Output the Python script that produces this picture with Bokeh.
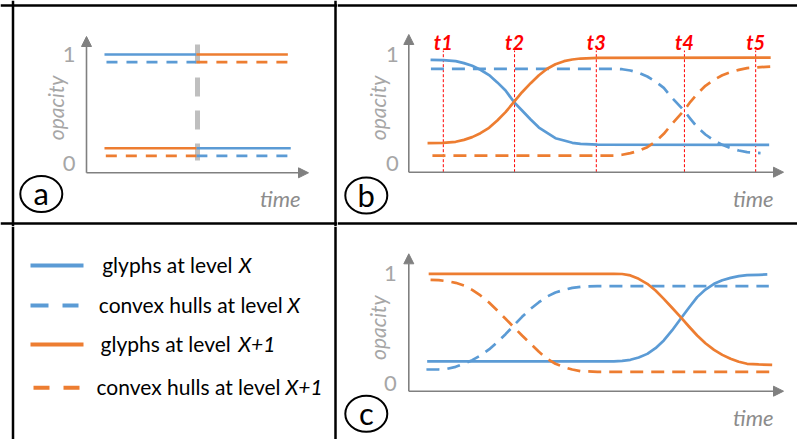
from bokeh.plotting import figure
from bokeh.layouts import gridplot
from bokeh.models import Range1d, Span, Arrow, NormalHead
from bokeh.embed import file_html
from bokeh.resources import INLINE
from bokeh.core.properties import value

nan = float("nan")

BLUE = "#5B9BD5"
ORANGE = "#ED7D31"
AXIS = "#808080"
TICK = "#A6A6A6"
LABEL = "#8C8C8C"
RED = "#FF0000"
GRAYBAR = "#BFBFBF"
FONT = "Lato"

# ---------------- data (time units, opacity) ----------------
tick_values = [0, 1]
tick_labels = ["0", "1"]

# (a) abrupt switch
a_switch_t = 5.0
a_glyphs_X_t = [0.81, 4.95, nan, 4.95, 9.20]
a_glyphs_X_o = [1.00, 1.00, nan, 0.14, 0.14]
a_hulls_X_t = [0.90, 4.95, nan, 4.95, 9.27]
a_hulls_X_o = [0.93, 0.93, nan, 0.07, 0.07]
a_glyphs_X1_t = [0.81, 4.95, nan, 4.95, 9.07]
a_glyphs_X1_o = [0.14, 0.14, nan, 1.00, 1.00]
a_hulls_X1_t = [0.87, 4.95, nan, 4.95, 9.11]
a_hulls_X1_o = [0.07, 0.07, nan, 0.93, 0.93]

# (b) staged transition
b_marks_t = [0.92, 2.82, 5.0, 7.35, 9.25]
b_marks_lbl = ["t1", "t2", "t3", "t4", "t5"]
b_t1 = [0.58, 0.91, 1.25, 1.47, 1.69, 1.91, 2.14, 2.36, 2.58, 2.80, 3.02, 3.25, 3.47, 3.69,
        3.91, 4.14, 4.36, 4.58, 5.03]
b_glyphs_X_t = b_t1 + [9.61]
b_glyphs_X_o = [0.951, 0.948, 0.939, 0.921, 0.896, 0.860, 0.811, 0.744, 0.670, 0.566, 0.486,
                0.404, 0.330, 0.281, 0.232, 0.211, 0.190, 0.180, 0.174, 0.171]
b_glyphs_X1_t = [0.50] + b_t1[1:] + [9.65]
b_glyphs_X1_o = [0.187, 0.190, 0.199, 0.217, 0.242, 0.278, 0.327, 0.395, 0.471, 0.563, 0.654,
                 0.737, 0.810, 0.869, 0.911, 0.939, 0.954, 0.963, 0.969, 0.972]
b_t2 = [5.47, 5.69, 5.91, 6.13, 6.36, 6.58, 6.80, 7.02, 7.34, 7.51, 7.69, 7.91, 8.14, 8.36,
        8.58, 8.80, 9.02]
b_hulls_X_t = [0.59] + b_t2 + [9.38]
b_hulls_X_o = [0.869, 0.869, 0.865, 0.853, 0.832, 0.798, 0.752, 0.694, 0.602, 0.486, 0.410,
               0.333, 0.266, 0.211, 0.171, 0.141, 0.119, 0.104, 0.095]
b_hulls_X1_t = [0.63] + b_t2 + [9.38, 9.69]
b_hulls_X1_o = [0.073, 0.073, 0.080, 0.095, 0.116, 0.150, 0.202, 0.272, 0.364, 0.486, 0.566,
                0.639, 0.713, 0.768, 0.810, 0.838, 0.859, 0.875, 0.884, 0.890]

# (c) reverse transition
c_t1 = [0.80, 1.02, 1.25, 1.47, 1.69, 1.91, 2.14, 2.36, 2.58, 2.80, 3.02, 3.25, 3.47, 3.69,
        3.91, 4.14, 4.36, 4.58, 5.03]
c_t2 = [5.47, 5.69, 5.91, 6.13, 6.36, 6.58, 6.80, 7.02, 7.25, 7.47, 7.69, 7.91, 8.14, 8.36,
        8.58, 8.80, 9.02, 9.33]
c_glyphs_X_t = [0.49] + c_t2 + [9.56]
c_glyphs_X_o = [0.203, 0.203, 0.209, 0.218, 0.239, 0.272, 0.324, 0.394, 0.485, 0.591, 0.691,
                0.788, 0.857, 0.909, 0.942, 0.963, 0.979, 0.988, 0.991, 0.994]
c_hulls_X_t = [0.47] + c_t1 + [9.60]
c_hulls_X_o = [0.130, 0.132, 0.136, 0.154, 0.182, 0.215, 0.257, 0.312, 0.379, 0.451, 0.530,
               0.609, 0.682, 0.742, 0.794, 0.830, 0.854, 0.872, 0.882, 0.888, 0.888]
c_glyphs_X1_t = [0.53] + c_t2 + [9.69]
c_glyphs_X1_o = [1.0, 1.0, 0.998, 0.985, 0.954, 0.909, 0.848, 0.772, 0.691, 0.606, 0.521,
                 0.439, 0.369, 0.309, 0.263, 0.227, 0.200, 0.182, 0.176, 0.172]
c_hulls_X1_t = [0.58] + c_t1 + [9.69]
c_hulls_X1_o = [0.945, 0.942, 0.933, 0.918, 0.894, 0.854, 0.803, 0.739, 0.666, 0.591, 0.515,
                0.439, 0.363, 0.291, 0.227, 0.182, 0.151, 0.130, 0.115, 0.109, 0.109]

# legend
legend_text = ["glyphs at level ", "convex hulls at level ", "glyphs at level ", "convex hulls at level "]
legend_level = ["X", "X", "X+1", "X+1"]
legend_color = [BLUE, BLUE, ORANGE, ORANGE]
legend_dash = ["solid", "18 14", "solid", "16 14"]

# ---------------- layout helpers (page pixel geometry) ----------------
W_L, W_R = 337, 460
H_T, H_B = 226, 213


def make_panel(w, h, x0, y0, ox, oy, sx, sy):
    xr = Range1d((x0 - ox) / sx, (x0 + w - ox) / sx)
    yr = Range1d((oy - (y0 + h)) / sy, (oy - y0) / sy)
    p = figure(width=w, height=h, x_range=xr, y_range=yr, x_axis_type=None, y_axis_type=None,
               output_backend="svg", toolbar_location=None, min_border=0,
               outline_line_color=None, background_fill_color="white", border_fill_color="white")
    fx = lambda px: (px - ox) / sx
    fy = lambda py: (oy - py) / sy
    return p, fx, fy


def vline(p, fx, px):
    p.add_layout(Span(location=fx(px), dimension="height", line_color="black", line_width=2.5))


def hline(p, fy, py):
    p.add_layout(Span(location=fy(py), dimension="width", line_color="black", line_width=2.5))


def axes(p, fx, fy, ox, ay, xtip, ytip, tick_dx, time_dx, letter, lx, ly):
    head = dict(size=10, fill_color=AXIS, line_color=AXIS, line_width=1)
    p.add_layout(Arrow(x_start=fx(ox), y_start=fy(ay), x_end=fx(ox), y_end=fy(ytip),
                       line_color=AXIS, line_width=1.6, end=NormalHead(**head)))
    p.add_layout(Arrow(x_start=fx(ox), y_start=fy(ay), x_end=fx(xtip), y_end=fy(ay),
                       line_color=AXIS, line_width=1.6, end=NormalHead(**head)))
    p.text(x=[fx(ox)] * 2, y=tick_values, text=tick_labels, x_offset=tick_dx,
           text_align="right", text_baseline="middle", text_font=value(FONT),
           text_font_size="22px", text_color=TICK)
    p.text(x=[fx(ox)], y=[0.51], text=["opacity"], x_offset=-31, angle=1.5708,
           text_align="center", text_baseline="middle", text_font=value(FONT),
           text_font_size="21px", text_font_style="italic", text_color=TICK)
    p.text(x=[fx(xtip)], y=[fy(ay)], text=["time"], x_offset=time_dx, y_offset=26,
           text_align="right", text_baseline="alphabetic", text_font=value(FONT),
           text_font_size="22px", text_font_style="italic", text_color=LABEL)
    p.ellipse(x=[fx(lx)], y=[fy(ly)], width=42, height=36, width_units="screen",
              height_units="screen", fill_color=None, line_color="black", line_width=2)
    p.text(x=[fx(lx)], y=[fy(ly)], text=[letter], text_align="center", text_baseline="middle",
           y_offset=-1, text_font=value(FONT), text_font_size="31px", text_color="black")


def curve(p, t, o, color, dash):
    p.line(t, o, line_color=color, line_width=2.7, line_dash=dash, line_join="round")


# ---------------- panel (a) ----------------
A, ax_, ay_ = make_panel(W_L, H_T, 0, 0, 86, 163, 22.2, 109)
vline(A, ax_, 12.5)
vline(A, ax_, 335)
hline(A, ay_, 5)
hline(A, ay_, 223)
A.line([a_switch_t, a_switch_t], [ay_(44), ay_(160)], line_color=GRAYBAR, line_width=5, line_dash="19 14")
curve(A, a_glyphs_X_t, a_glyphs_X_o, BLUE, "solid")
curve(A, a_hulls_X_t, a_hulls_X_o, BLUE, "11 9")
curve(A, a_glyphs_X1_t, a_glyphs_X1_o, ORANGE, "solid")
curve(A, a_hulls_X1_t, a_hulls_X1_o, ORANGE, "11 9")
axes(A, ax_, ay_, 86, 172.3, 308, 36, -11, -8, "a", 40.8, 193.5)

# ---------------- panel (b) ----------------
B, bx_, by_ = make_panel(W_R, H_T, 337, 0, 408.3, 163, 37.5, 109)
hline(B, by_, 5)
hline(B, by_, 223)
B.segment(x0=b_marks_t, y0=[by_(171.7)] * 5, x1=b_marks_t, y1=[by_(50)] * 5,
          line_color=RED, line_width=1, line_dash="3 2")
B.text(x=b_marks_t, y=[by_(41)] * 5, text=b_marks_lbl, text_align="center", text_baseline="middle",
       text_font=value(FONT), text_font_size="20px", text_font_style="bold italic", text_color=RED)
curve(B, b_glyphs_X_t, b_glyphs_X_o, BLUE, "solid")
curve(B, b_hulls_X_t, b_hulls_X_o, BLUE, "13 8")
curve(B, b_glyphs_X1_t, b_glyphs_X1_o, ORANGE, "solid")
curve(B, b_hulls_X1_t, b_hulls_X1_o, ORANGE, "13 8")
axes(B, bx_, by_, 408.3, 171.7, 783, 34, -10, -10, "b", 365.8, 195)

# ---------------- legend ----------------
C, cx_, cy_ = make_panel(W_L, H_B, 0, 226, 0, 0, 1, -1)
vline(C, cx_, 12.5)
vline(C, cx_, 335)
rows_y = [265, 305, 344, 387.3]
line_x0 = [30, 30, 30, 33]
line_x1 = [83, 78, 83, 80]
text_x = [101.7, 98.3, 100, 96]
level_x = [238.3, 286.7, 237.7, 285]
for i in range(4):
    C.line([line_x0[i], line_x1[i]], [rows_y[i], rows_y[i]], line_color=legend_color[i],
           line_width=4, line_dash=legend_dash[i])
C.text(x=text_x, y=[r - 1.5 for r in rows_y], text=legend_text, text_align="left", text_baseline="middle",
       text_font=value(FONT), text_font_size="21px", text_color="black")
C.text(x=level_x, y=[r - 1.5 for r in rows_y], text=legend_level, text_align="left", text_baseline="middle",
       text_font=value(FONT), text_font_size="21px", text_font_style="italic", text_color="black")

# ---------------- panel (c) ----------------
D, dx_, dy_ = make_panel(W_R, H_B, 337, 226, 408.3, 383.3, 37.5, 110)
curve(D, c_glyphs_X_t, c_glyphs_X_o, BLUE, "solid")
curve(D, c_hulls_X_t, c_hulls_X_o, BLUE, "13 8")
curve(D, c_glyphs_X1_t, c_glyphs_X1_o, ORANGE, "solid")
curve(D, c_hulls_X1_t, c_hulls_X1_o, ORANGE, "13 8")
axes(D, dx_, dy_, 408.3, 390.7, 783, 253.3, -12, -10, "c", 365.8, 413.3)

grid = gridplot([[A, B], [C, D]], toolbar_location=None)
try:
    grid.spacing = 0
except Exception:
    pass

open("out.html", "w").write(file_html(grid, INLINE))
